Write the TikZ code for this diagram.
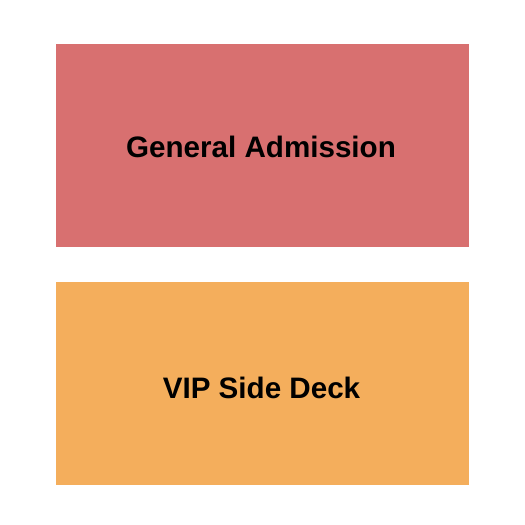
\documentclass[tikz,border=0pt]{standalone}
\usepackage{fontspec}
\setmainfont{Liberation Sans}
\definecolor{ga}{HTML}{D87070}
\definecolor{vip}{HTML}{F4AE5C}
\begin{document}
\begin{tikzpicture}[x=1pt,y=-1pt,
  sect/.style={inner sep=0pt,outer sep=0pt},
  lbl/.style={font=\fontsize{29.6}{34}\selectfont\bfseries,text=black}]
\useasboundingbox (0,0) rectangle (525,525);
\fill[ga] (56,44) rectangle (469,246.5);
\fill[vip] (56,282) rectangle (469,484.5);
\node[lbl] (ga) at (261,147) {General Admission};
\node[lbl] (vip) at (261.5,388) {VIP Side Deck};
\end{tikzpicture}
\end{document}
